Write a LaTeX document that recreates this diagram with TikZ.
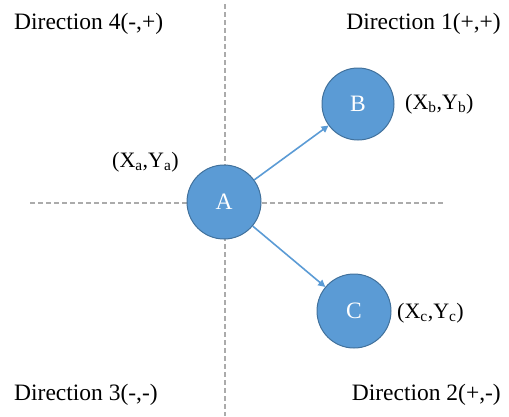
\documentclass[tikz,border=0pt]{standalone}
\usepackage{fontspec}
\setmainfont{Liberation Serif}
\usetikzlibrary{arrows.meta}
\definecolor{cfill}{HTML}{5B9BD5}
\definecolor{cline}{HTML}{41719C}
\definecolor{dgray}{HTML}{ABABAB}
\begin{document}
\begin{tikzpicture}[x=1pt,y=-1pt,
  pt/.style={circle,fill=cfill,draw=cline,line width=1pt,minimum size=74pt,inner sep=0pt,text=white,font=\fontsize{23.5}{27}\selectfont},
  lbl/.style={inner sep=0pt,font=\fontsize{22}{26}\selectfont},
  dirl/.style={inner sep=0pt,font=\fontsize{23.5}{27}\selectfont},
  axis/.style={dgray,line width=1.4pt,dash pattern=on 5pt off 3pt},
  conn/.style={cfill,line width=1.6pt,-{Triangle[width=7pt,length=7pt]}}]
\useasboundingbox (0,0) rectangle (509,416);
\coordinate (vt) at (225,4);
\coordinate (vb) at (225,416);
\coordinate (hl) at (30,203);
\coordinate (hr) at (445,203);
\draw[axis] (vt) -- (vb);
\draw[axis] (hl) -- (hr);
\node[pt] (A) at (224,202) {A};
\node[pt,minimum size=72pt] (B) at (358,104) {B};
\node[pt] (C) at (354,311) {C};
\draw[conn] (A) -- (B);
\draw[conn] (A) -- (C);
\node[lbl,anchor=west] (la) at (112,162) {(X\textsubscript{a},Y\textsubscript{a})};
\node[lbl,anchor=west] (lb) at (405,104) {(X\textsubscript{b},Y\textsubscript{b})};
\node[lbl,anchor=west] (lc) at (397,313) {(X\textsubscript{c},Y\textsubscript{c})};
\node[dirl,anchor=base west] (d4) at (14,29) {Direction 4(-,+)};
\node[dirl,anchor=base east] (d1) at (501,29) {Direction 1(+,+)};
\node[dirl,anchor=base west] (d3) at (14,400) {Direction 3(-,-)};
\node[dirl,anchor=base east] (d2) at (501,400) {Direction 2(+,-)};
\end{tikzpicture}
\end{document}
